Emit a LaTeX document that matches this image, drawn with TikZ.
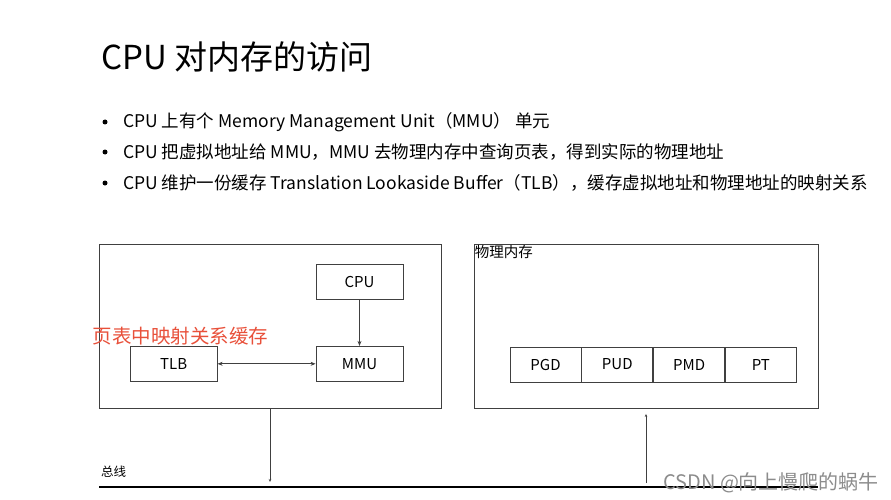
\documentclass[tikz,border=0pt]{standalone}
\usepackage{fontspec}
\setmainfont{Noto Sans CJK SC}
\usepackage{tikz}
\usetikzlibrary{arrows.meta, positioning, calc}

\definecolor{linegray}{HTML}{404040}
\definecolor{notered}{HTML}{E8503A}

\begin{document}
\begin{tikzpicture}[
    x=1pt, y=-1pt,
    node distance=46pt and 98pt,
    frame/.style={draw=linegray, line width=0.9pt, rectangle, minimum width=342pt, minimum height=164pt, inner sep=0pt},
    block/.style={draw=linegray, line width=0.8pt, rectangle, minimum width=87pt, minimum height=35pt, inner sep=0pt, font=\fontsize{15}{18}\selectfont},
    cell/.style={block, minimum width=71pt},
    dot/.style={circle, fill=black, inner sep=0pt, minimum size=5pt},
    item/.style={anchor=west, inner sep=0pt, font=\fontsize{17.5}{21}\selectfont},
    >={Stealth[length=5pt, width=4pt]},
]
    \useasboundingbox (0,0) rectangle (891,500);

    \node[anchor=west, inner sep=0pt, font=\fontsize{33}{40}\selectfont] (title) at (101,57) {CPU 对内存的访问};

    \node[dot]  (b1) at (105,122) {};
    \node[item] (t1) at (123,122) {CPU 上有个 Memory Management Unit（MMU） 单元};
    \node[dot]  (b2) at (105,152) {};
    \node[item] (t2) at (123,152) {CPU 把虚拟地址给 MMU，MMU 去物理内存中查询页表，得到实际的物理地址};
    \node[dot]  (b3) at (105,183) {};
    \node[item] (t3) at (123,183) {CPU 维护一份缓存 Translation Lookaside Buffer（TLB），缓存虚拟地址和物理地址的映射关系};

    % left side: cpu chip
    \node[frame] (chip) at (270,326) {};
    \node[block] (cpu) at (359.5,282) {CPU};
    \node[block, below=of cpu] (mmu) {MMU};
    \node[block, left=of mmu]  (tlb) {TLB};
    \node[anchor=south, inner sep=0pt, text=notered, font=\fontsize{19.5}{23}\selectfont] (note) at (180.5,345) {页表中映射关系缓存};

    % right side: memory
    \node[frame, minimum width=344pt] (mem) at (646,326.5) {};
    \node[anchor=north west, inner sep=1pt, font=\fontsize{14.5}{17}\selectfont] (memlbl) at (mem.north west) {物理内存};
    \node[cell] (pgd) at (545.5,364.5) {PGD};
    \node[cell, right=0pt of pgd] (pud) {PUD};
    \node[cell, right=0pt of pud] (pmd) {PMD};
    \node[cell, right=0pt of pmd] (pt)  {PT};

    % bus
    \coordinate (busl) at (99,487);
    \coordinate (busr) at (818,487);
    \draw[line width=2pt] (busl) -- (busr);
    \node[anchor=south west, inner sep=0pt, font=\fontsize{12.5}{15}\selectfont] (buslbl) at (101,478) {总线};

    \draw[->, linegray, line width=0.8pt] (cpu) -- (mmu);
    \draw[<->, linegray, line width=0.8pt] (tlb) -- (mmu);
    \draw[->, linegray, line width=0.8pt, >={Stealth[length=3pt, width=2.5pt]}, shorten >=5pt] (chip.south) -- (chip.south |- busl);
    \draw[->, linegray, line width=0.8pt, >={Stealth[length=3pt, width=2.5pt]}, shorten <=4pt, shorten >=5pt] (mem.south |- busl) -- (mem.south);

    \node[anchor=west, inner sep=0pt, text=black!45, font=\fontsize{20}{24}\selectfont] (mark) at (663,483) {CSDN @向上慢爬的蜗牛};
\end{tikzpicture}
\end{document}
